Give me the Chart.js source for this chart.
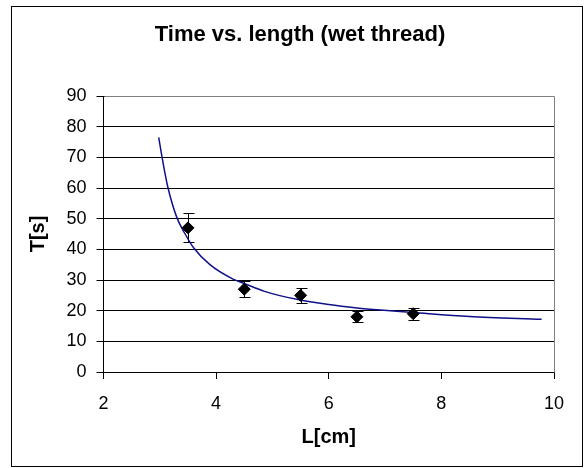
<!DOCTYPE html>
<html>
<head>
<meta charset="utf-8">
<script src="https://cdn.jsdelivr.net/npm/chart.js@4.4.0/dist/chart.umd.min.js"></script>
<style>
  html, body { margin: 0; padding: 0; background: #fff; }
  #wrap { width: 585px; height: 468px; }
</style>
</head>
<body>
<div id="wrap"><canvas id="thread-chart" width="585" height="468"></canvas></div>
<script>
// measured points (wet thread)
const lengths = [3.5, 4.5, 5.5, 6.5, 7.5];
const times = [47, 27, 25, 18, 19];
const errors = [4.7, 2.7, 2.5, 1.8, 1.9];

// trend line
const trendL = [2.98, 3.05, 3.14, 3.30, 3.45, 3.60, 3.89, 4.30, 4.52, 4.86, 5.43, 6.00, 6.50, 6.92, 7.50, 8.50, 9.78];
const trendT = [76.5, 69.0, 60.5, 50.5, 45.0, 40.5, 35.0, 30.3, 28.7, 26.3, 23.7, 22.0, 20.9, 20.2, 19.4, 18.1, 17.2];

const xTicks = [2, 4, 6, 8, 10];
const yTicks = [0, 10, 20, 30, 40, 50, 60, 70, 80, 90];

const fontFam = '"Liberation Sans", Arial, sans-serif';

let pointData = lengths.map((l, i) => ({x: l, y: times[i]}));
let trendData = trendL.map((l, i) => ({x: l, y: trendT[i]}));

const extras = {
    id: 'extras',
    beforeDraw(chart) {
        const ctx = chart.ctx;
        ctx.save();
        ctx.fillStyle = '#fff';
        ctx.fillRect(0, 0, chart.width, chart.height);
        ctx.restore();
    },
    beforeDatasetsDraw(chart) {
        const {ctx, scales: {x, y}} = chart;
        ctx.save();
        ctx.strokeStyle = '#000';
        ctx.lineWidth = 1;
        lengths.forEach((l, i) => {
            const px = Math.round(x.getPixelForValue(l)) + 0.5;
            const top = Math.round(y.getPixelForValue(times[i] + errors[i])) + 0.5;
            const bot = Math.round(y.getPixelForValue(times[i] - errors[i])) + 0.5;
            ctx.beginPath();
            ctx.moveTo(px, top); ctx.lineTo(px, bot);
            ctx.moveTo(px - 5, top); ctx.lineTo(px + 6, top);
            ctx.moveTo(px - 5, bot); ctx.lineTo(px + 6, bot);
            ctx.stroke();
        });
        ctx.restore();
    },
    afterDraw(chart) {
        const {ctx, chartArea} = chart;
        ctx.save();
        // plot area border (top / right)
        ctx.strokeStyle = '#808080';
        ctx.lineWidth = 1;
        ctx.beginPath();
        ctx.moveTo(Math.round(chartArea.left) + 0.5, Math.round(chartArea.top) + 0.5);
        ctx.lineTo(Math.round(chartArea.right) + 0.5, Math.round(chartArea.top) + 0.5);
        ctx.lineTo(Math.round(chartArea.right) + 0.5, Math.round(chartArea.bottom) + 0.5);
        ctx.stroke();
        // outer chart frame
        ctx.strokeStyle = '#000';
        ctx.strokeRect(11.5, 6.5, 571, 460);
        ctx.restore();
    }
};

const threadConfig = {
    type: 'scatter',
    data: {
        datasets: [
            {
                label: 'T',
                data: pointData,
                pointStyle: 'rectRot',
                pointRadius: 6,
                pointHoverRadius: 6,
                backgroundColor: '#000',
                borderColor: '#000',
                borderWidth: 1,
                showLine: false,
            },
            {
                label: 'trend',
                data: trendData,
                showLine: true,
                borderColor: '#10108a',
                borderWidth: 1.5,
                pointRadius: 0,
                cubicInterpolationMode: 'monotone',
                fill: false,
            }
        ]
    },
    options: {
        responsive: false,
        animation: false,
        // wide left padding keeps the title centred like the original
        layout: { padding: { top: 7, left: 46, right: 31, bottom: 2 } },
        plugins: {
            legend: { display: false },
            tooltip: { enabled: false },
            title: {
                display: true,
                text: 'Time vs. length (wet thread)',
                color: '#000',
                font: { family: fontFam, size: 22, weight: 'bold' },
                padding: { top: 14.8, bottom: 47.8 },
            },
        },
        scales: {
            x: {
                type: 'linear',
                min: 2,
                max: 10,
                afterBuildTicks: (s) => { s.ticks = xTicks.map(v => ({value: v})); },
                afterFit: (s) => { s.height = 94; },
                ticks: {
                    color: '#000',
                    padding: 14,
                    maxRotation: 0,
                    font: { family: fontFam, size: 18 },
                },
                grid: {
                    drawOnChartArea: false,
                    drawTicks: true,
                    tickLength: 7,
                    color: '#000',
                },
                border: { color: '#000', width: 1 },
                title: {
                    display: true,
                    text: 'L[cm]',
                    color: '#000',
                    font: { family: fontFam, size: 20, weight: 'bold' },
                    padding: { top: 0, bottom: 16.3 },
                },
            },
            y: {
                type: 'linear',
                min: 0,
                max: 90,
                afterBuildTicks: (s) => { s.ticks = yTicks.map(v => ({value: v})); },
                afterFit: (s) => { s.width = 57.5; },
                ticks: {
                    color: '#000',
                    padding: 10,
                    font: { family: fontFam, size: 18 },
                },
                grid: {
                    color: '#000',
                    tickLength: 7,
                },
                border: { color: '#000', width: 1 },
                title: {
                    display: true,
                    text: 'T[s]',
                    color: '#000',
                    font: { family: fontFam, size: 20, weight: 'bold' },
                    padding: { top: -20, bottom: 0 },
                },
            },
        },
    },
    plugins: [extras],
};

const threadChart = new Chart(
    document.getElementById('thread-chart'),
    threadConfig
);
</script>
</body>
</html>
